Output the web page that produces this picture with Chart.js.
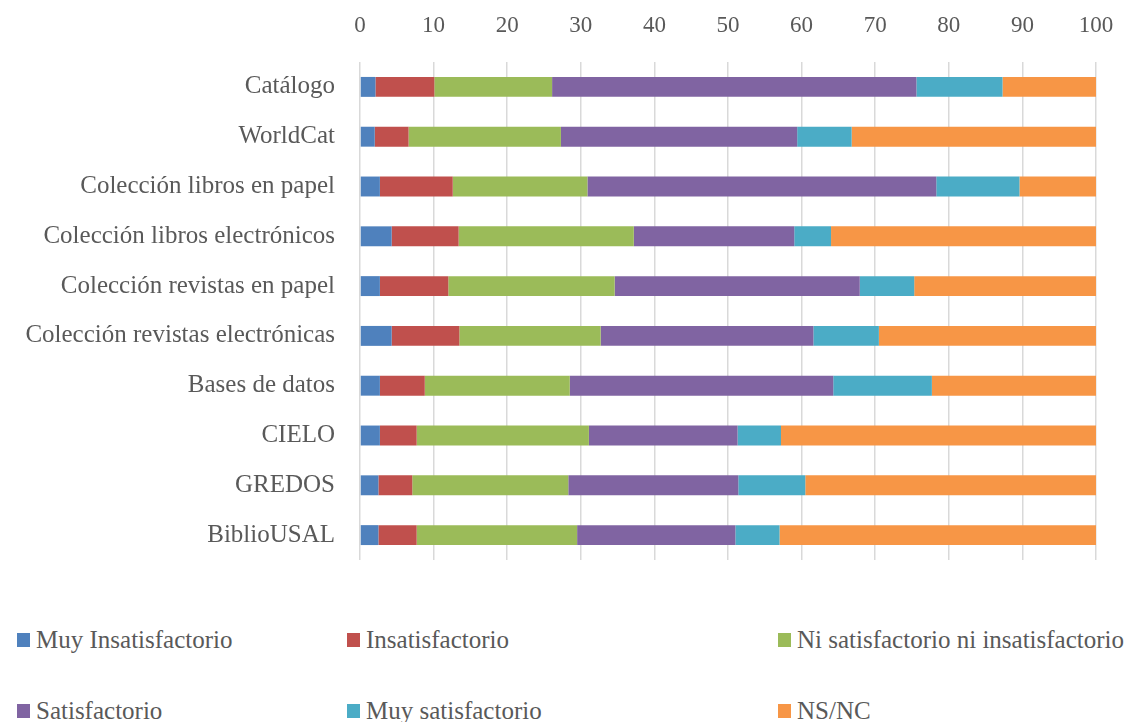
<!DOCTYPE html>
<html>
<head>
<meta charset="utf-8">
<script src="https://cdn.jsdelivr.net/npm/chart.js@4/dist/chart.umd.min.js"></script>
<style>
  html, body { margin: 0; padding: 0; background: #fff; }
  #wrap { position: relative; width: 1144px; height: 722px; overflow: hidden; }
  #box { position: absolute; left: 0; top: 0; width: 1144px; height: 600px; }
  .legend { position: absolute; display: flex; align-items: center;
    font-family: "Liberation Serif", serif; font-size: 25px; color: #595959; white-space: nowrap; }
  .legend span.sw { display: inline-block; width: 13px; height: 14px; margin-right: 6px; }
</style>
</head>
<body>
<div id="wrap">
  <div id="box"><canvas id="chart"></canvas></div>
  <div id="legend"></div>
</div>
<script>
// categorias (de arriba a abajo)
const categories = [
  'Catálogo',
  'WorldCat',
  'Colección libros en papel',
  'Colección libros electrónicos',
  'Colección revistas en papel',
  'Colección revistas electrónicas',
  'Bases de datos',
  'CIELO',
  'GREDOS',
  'BiblioUSAL'
];

const seriesNames = [
  'Muy Insatisfactorio',
  'Insatisfactorio',
  'Ni satisfactorio ni insatisfactorio',
  'Satisfactorio',
  'Muy satisfactorio',
  'NS/NC'
];

// porcentajes
const muyInsatisfactorio = [2.1, 2.0, 2.7, 4.3, 2.7, 4.3, 2.7, 2.7, 2.5, 2.5];
const insatisfactorio    = [8.0, 4.6, 9.9, 9.1, 9.3, 9.2, 6.1, 5.0, 4.6, 5.2];
const niSatNiInsat       = [16.0, 20.7, 18.3, 23.8, 22.6, 19.2, 19.7, 23.4, 21.2, 21.8];
const satisfactorio      = [49.5, 32.1, 47.4, 21.8, 33.3, 28.9, 35.8, 20.2, 23.1, 21.5];
const muySatisfactorio   = [11.7, 7.4, 11.3, 5.0, 7.4, 8.9, 13.4, 5.9, 9.1, 6.0];
const nsnc               = [12.7, 33.2, 10.4, 36.0, 24.7, 29.5, 22.3, 42.8, 39.5, 43.0];

const xTicks = [0, 10, 20, 30, 40, 50, 60, 70, 80, 90, 100];

const colors = ['#4F81BD', '#C0504D', '#9BBB59', '#8064A2', '#4BACC6', '#F79646'];
const values = [muyInsatisfactorio, insatisfactorio, niSatNiInsat, satisfactorio, muySatisfactorio, nsnc];

const family = '"Liberation Serif", serif';
const textColor = '#595959';

const datasets = seriesNames.map((name, i) => ({
  label: name,
  data: values[i],
  backgroundColor: colors[i],
  borderWidth: 0,
  barPercentage: 0.5,
  categoryPercentage: 0.8
}));

const chart = new Chart(document.getElementById('chart'), {
  type: 'bar',
  data: { labels: categories, datasets },
  options: {
    indexAxis: 'y',
    responsive: true,
    maintainAspectRatio: false,
    animation: false,
    layout: { padding: { top: 14, right: 48, bottom: 33, left: 0 } },
    plugins: { legend: { display: false }, tooltip: { enabled: false } },
    scales: {
      x: {
        position: 'top',
        stacked: true,
        min: xTicks[0],
        max: xTicks[xTicks.length - 1],
        afterBuildTicks: (s) => { s.ticks = xTicks.map(v => ({ value: v })); },
        afterFit: (s) => { s.height = 48; },
        grid: { color: '#d9d9d9', lineWidth: 1.5, drawTicks: false },
        border: { display: false },
        ticks: { font: { family, size: 23 }, color: textColor, padding: 22 }
      },
      y: {
        stacked: true,
        afterFit: (s) => { s.width = 360; },
        grid: { display: false, drawTicks: false },
        border: { display: false },
        ticks: { font: { family, size: 25 }, color: textColor, padding: 25 }
      }
    }
  }
});

// leyenda en 3 columnas como en el original
const legendPos = [
  [17, 640], [347, 640], [778, 640],
  [17, 711], [347, 711], [778, 711]
];
const legendEl = document.getElementById('legend');
chart.data.datasets.forEach((ds, i) => {
  const item = document.createElement('div');
  item.className = 'legend';
  item.style.left = legendPos[i][0] + 'px';
  item.style.top = (legendPos[i][1] - 15) + 'px';
  item.style.height = '30px';
  item.innerHTML = '<span class="sw" style="background:' + ds.backgroundColor + '"></span>' + ds.label;
  legendEl.appendChild(item);
});
</script>
</body>
</html>
